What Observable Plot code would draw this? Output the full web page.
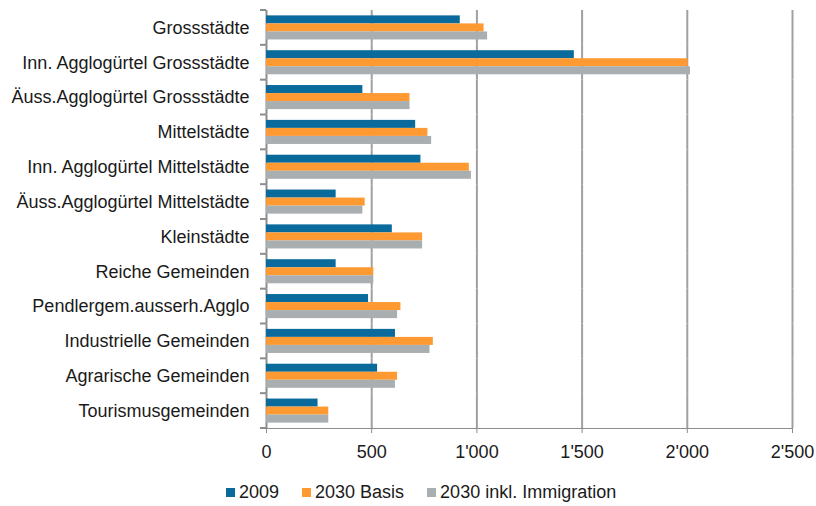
<!DOCTYPE html>
<html><head><meta charset="utf-8">
<script src="https://cdn.jsdelivr.net/npm/d3@7"></script>
<script src="https://cdn.jsdelivr.net/npm/@observablehq/plot@0.6"></script>
<style>
body{margin:0;background:#fff;font-family:"Liberation Sans",Arial,sans-serif;}
#chart svg text{fill:#1a1a1a}
.legend{display:flex;align-items:center;margin-left:226px;padding-top:12px;line-height:20px;font-size:18px;color:#1a1a1a;}
.legend .item{display:flex;align-items:center;margin-right:23px;}
.legend .sw{width:9px;height:9px;margin-right:4px;}
</style></head><body><div id="chart"></div><script>
const categories = ["Grossstädte","Inn. Agglogürtel Grossstädte","Äuss.Agglogürtel Grossstädte","Mittelstädte","Inn. Agglogürtel Mittelstädte","Äuss.Agglogürtel Mittelstädte","Kleinstädte","Reiche Gemeinden","Pendlergem.ausserh.Agglo","Industrielle Gemeinden","Agrarische Gemeinden","Tourismusgemeinden"];
const seriesNames = ["2009","2030 Basis","2030 inkl. Immigration"];
const colors = ["#0a6a9b","#ff9a33","#a9aeb1"];
const v2009 = [921,1463,458,709,734,331,598,331,485,613,528,245];
const vBasis = [1034,2004,682,767,964,469,742,510,639,793,623,296];
const vImm = [1051,2015,682,785,974,458,742,510,623,777,613,296];
const xTicks = [0,500,1000,1500,2000,2500];
const xTickLabels = ["0","500","1'000","1'500","2'000","2'500"];

const seriesValues = [v2009, vBasis, vImm];
const data = categories.flatMap((c,i)=>seriesNames.map((s,j)=>({category:c, series:s, value:seriesValues[j][i]})));

const marginLeft = 266;
const plot = Plot.plot({
  width:816, height:470, marginTop:10, marginBottom:42, marginLeft, marginRight:24,
  style:{fontFamily:"Liberation Sans, Arial, sans-serif", fontSize:"18px", color:"#8c8c8c", background:"#fff", overflow:"visible"},
  facet:{data, y:"category", marginTop:0, marginBottom:0, marginLeft:0, marginRight:0},
  fy:{domain:categories, padding:0, round:false, axis:"left", label:null, tickSize:0, tickPadding:17},
  y:{domain:seriesNames, paddingInner:0, paddingOuter:0.67, round:false, axis:null},
  x:{domain:[0,2500], ticks:xTicks, tickFormat:d=>xTickLabels[xTicks.indexOf(d)], tickSize:5, tickPadding:12, label:null, line:true},
  color:{domain:seriesNames, range:colors},
  marks:[
    Plot.ruleX(xTicks.slice(1), {stroke:"#a0a0a0", strokeWidth:2}),
    Plot.ruleX([0], {stroke:"#8c8c8c", strokeWidth:2}),
    Plot.barX(data, {x:"value", y:"series", fill:"series"})
  ]
});
// category boundary tick marks on the left axis, from the fy scale
const fy = plot.scale("fy");
const r0 = fy.range[0], r1 = fy.range[1];
const step = (r1 - r0) / fy.domain.length;
d3.select(plot).append("g").selectAll("line").data(d3.range(fy.domain.length + 1)).join("line")
  .attr("x1", marginLeft - 6).attr("x2", marginLeft)
  .attr("y1", i => r0 + i*step).attr("y2", i => r0 + i*step)
  .attr("stroke", "#8c8c8c").attr("stroke-width", 2);
document.getElementById("chart").appendChild(plot);

const legend = document.createElement("div");
legend.className = "legend";
seriesNames.forEach((s,i)=>{
  const it = document.createElement("div"); it.className="item";
  const sw = document.createElement("div"); sw.className="sw"; sw.style.background=colors[i];
  const t = document.createElement("span"); t.textContent = s;
  it.appendChild(sw); it.appendChild(t); legend.appendChild(it);
});
document.getElementById("chart").appendChild(legend);
</script></body></html>
